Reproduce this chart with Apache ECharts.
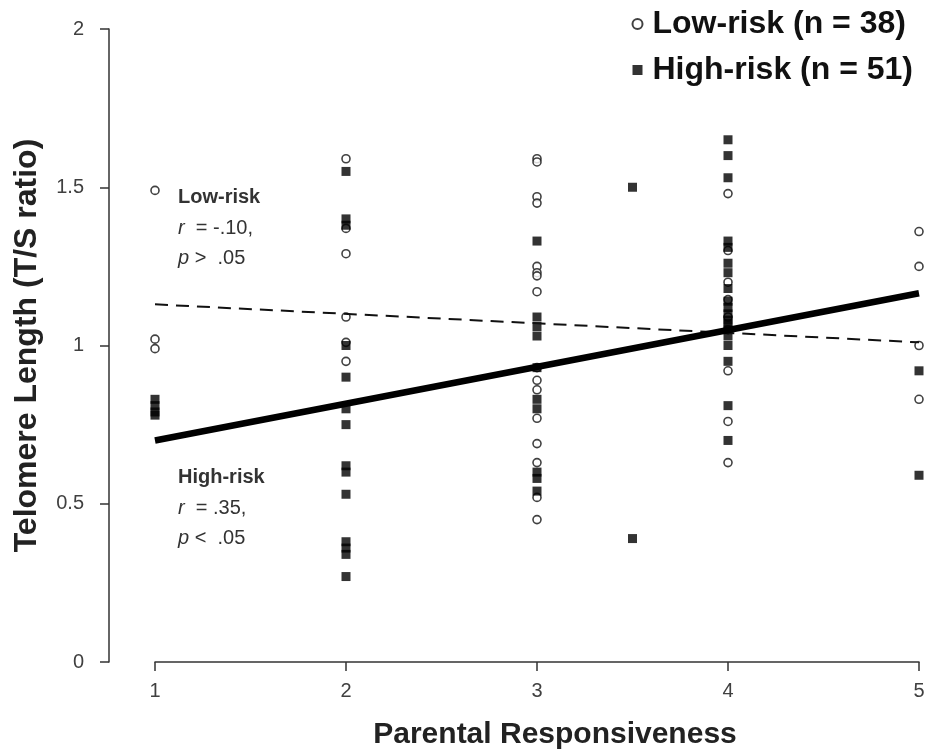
<!DOCTYPE html>
<html>
<head>
<meta charset="utf-8">
<script src="https://cdn.jsdelivr.net/npm/echarts@6/dist/echarts.min.js"></script>
<style>html,body{margin:0;padding:0;background:#fff}#c{width:931px;height:755px}</style>
</head>
<body>
<div id="c"></div>
<script>
// Low-risk (open circles): [parental responsiveness, T/S ratio]
const lowRisk = [
  [1,1.49],[1,1.02],[1,0.99],
  [2,1.59],[2,1.37],[2,1.29],[2,1.09],[2,1.01],[2,0.95],
  [3,1.59],[3,1.58],[3,1.47],[3,1.45],[3,1.25],[3,1.23],[3,1.22],[3,1.17],[3,0.93],[3,0.89],[3,0.86],[3,0.77],[3,0.69],[3,0.63],[3,0.52],[3,0.45],
  [4,1.48],[4,1.30],[4,1.20],[4,1.145],[4,1.09],[4,1.05],[4,0.92],[4,0.76],[4,0.63],
  [5,1.36],[5,1.25],[5,1.00],[5,0.83]
];
// High-risk (filled squares)
const highRisk = [
  [1,0.83],[1,0.81],[1,0.79],[1,0.78],
  [2,1.55],[2,1.40],[2,1.38],[2,1.00],[2,0.90],[2,0.80],[2,0.75],[2,0.62],[2,0.60],[2,0.53],[2,0.38],[2,0.36],[2,0.34],[2,0.27],
  [3,1.33],[3,1.09],[3,1.06],[3,1.03],[3,0.93],[3,0.83],[3,0.80],[3,0.60],[3,0.58],[3,0.54],
  [3.5,1.50],[3.5,0.39],
  [4,1.65],[4,1.60],[4,1.53],[4,1.33],[4,1.31],[4,1.26],[4,1.23],[4,1.18],[4,1.14],[4,1.12],[4,1.10],[4,1.08],[4,1.07],[4,1.05],[4,1.03],[4,1.00],[4,0.95],[4,0.81],[4,0.70],
  [5,0.92],[5,0.59]
];
// Regression lines
const lowRiskFit = [[1,1.13],[5,1.01]];
const highRiskFit = [[1,0.70],[5,1.165]];
const xTicks = [1,2,3,4,5];
const yTicks = [0,0.5,1,1.5,2];
const legendNames = ['Low-risk (n = 38)','High-risk (n = 51)'];

const FONT = '"Liberation Sans", Arial, sans-serif';
const TXT = '#333';
const rich = {i:{font:'italic 20px '+FONT, fill:TXT}};
const chart = echarts.init(document.getElementById('c'), null, {renderer:'canvas'});
chart.setOption({
  animation:false,
  backgroundColor:'#fff',
  grid:{left:155, right:12, top:29, bottom:92},
  xAxis:{
    type:'value', min:1, max:5, interval:1,
    name:'Parental Responsiveness', nameLocation:'middle', nameGap:58,
    nameTextStyle:{fontFamily:FONT, fontSize:30, fontWeight:'bold', color:'#222', padding:[0,0,0,36]},
    axisLine:{show:true, lineStyle:{color:'#333', width:1.5}},
    axisTick:{show:true, length:9, lineStyle:{color:'#333', width:1.5}},
    axisLabel:{margin:19, fontFamily:FONT, fontSize:20, color:'#404040',
      formatter:v=> xTicks.includes(v)? String(v):''},
    splitLine:{show:false}
  },
  yAxis:{
    type:'value', min:0, max:2, interval:0.5, offset:46,
    name:'Telomere Length (T/S ratio)', nameLocation:'middle', nameGap:66,
    nameTextStyle:{fontFamily:FONT, fontSize:32, fontWeight:'bold', color:'#222'},
    axisLine:{show:true, lineStyle:{color:'#333', width:1.5}},
    axisTick:{show:true, length:9, lineStyle:{color:'#333', width:1.5}},
    axisLabel:{margin:25, fontFamily:FONT, fontSize:20, color:'#404040',
      formatter:v=> yTicks.includes(v)? String(v):''},
    splitLine:{show:false}
  },
  legend:{
    orient:'vertical', right:13, top:3, itemGap:14, itemWidth:10, itemHeight:10,
    textStyle:{fontFamily:FONT, fontSize:32, fontWeight:'bold', color:'#111', padding:[0,0,0,5]},
    data:[{name:legendNames[0], icon:'circle'},{name:legendNames[1], icon:'rect'}]
  },
  series:[
    {name:legendNames[0], type:'scatter', data:lowRisk, symbol:'circle', symbolSize:8,
      itemStyle:{color:'#fff', borderColor:'#111', borderWidth:1.6}, z:3},
    {name:legendNames[1], type:'scatter', data:highRisk, symbol:'rect', symbolSize:9,
      itemStyle:{color:'#000'}, z:3},
    {type:'line', data:lowRiskFit, symbol:'none', silent:true,
      lineStyle:{color:'#111', width:2, type:[13,8]}, z:4},
    {type:'line', data:highRiskFit, symbol:'none', silent:true,
      lineStyle:{color:'#000', width:6.5}, z:5}
  ],
  graphic:[
    {type:'text', left:178, top:187, style:{text:'Low-risk', font:'bold 20px '+FONT, fill:TXT}},
    {type:'text', left:178, top:218, style:{text:'{i|r}  = -.10,', rich:rich, font:'20px '+FONT, fill:TXT}},
    {type:'text', left:178, top:248, style:{text:'{i|p} >  .05', rich:rich, font:'20px '+FONT, fill:TXT}},
    {type:'text', left:178, top:467, style:{text:'High-risk', font:'bold 20px '+FONT, fill:TXT}},
    {type:'text', left:178, top:498, style:{text:'{i|r}  = .35,', rich:rich, font:'20px '+FONT, fill:TXT}},
    {type:'text', left:178, top:528, style:{text:'{i|p} <  .05', rich:rich, font:'20px '+FONT, fill:TXT}}
  ]
});
</script>
</body>
</html>
